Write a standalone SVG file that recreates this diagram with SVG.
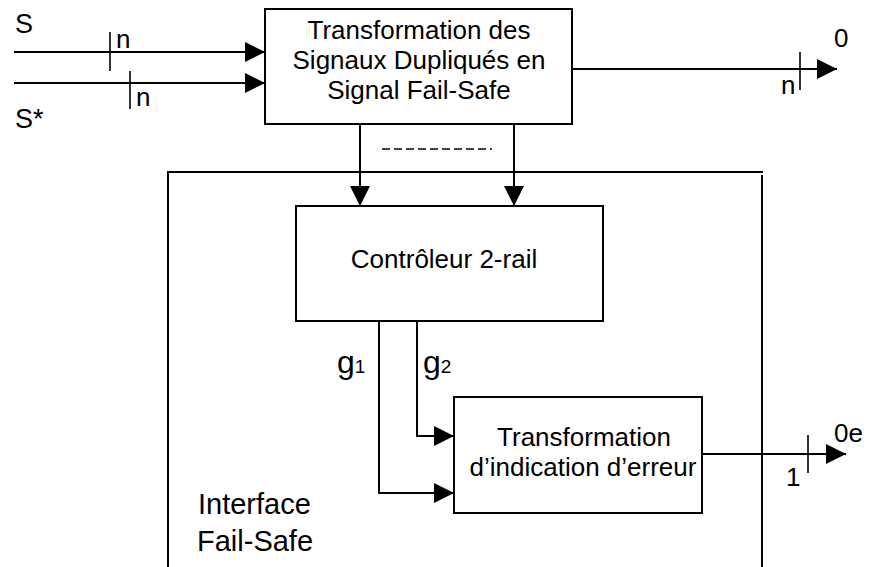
<svg xmlns="http://www.w3.org/2000/svg" width="877" height="567" viewBox="0 0 877 567">
<style>
  .box { fill: #fff; stroke: #000; stroke-width: 2; }
  .ln { fill: none; stroke: #000; stroke-width: 2; }
  .tk { fill: none; stroke: #000; stroke-width: 1.6; }
  text { font-family: "Liberation Sans", Arial, sans-serif; fill: #000; }
  .t { font-size: 26px; }
  .c { text-anchor: middle; }
</style>
<defs>
  <marker id="ah" markerUnits="userSpaceOnUse" markerWidth="20" markerHeight="20" refX="20" refY="10" orient="auto">
    <path d="M0,0 L20,10 L0,20 Z" fill="#000"/>
  </marker>
</defs>
<rect width="877" height="567" fill="#fff"/>

<g id="interface-frame">
  <path class="ln" d="M168,567 V172 H763"/>
  <path class="ln" d="M762,175 V567"/>
  <text class="t" x="198" y="514" style="font-size:29px">Interface</text>
  <text class="t" x="197" y="551" style="font-size:29px">Fail-Safe</text>
</g>

<g id="connectors">
  <line class="ln" x1="14" y1="52" x2="265" y2="52" marker-end="url(#ah)"/>
  <line class="ln" x1="14" y1="83" x2="265" y2="83" marker-end="url(#ah)"/>
  <line class="tk" x1="110" y1="32" x2="110" y2="71"/>
  <line class="tk" x1="130" y1="71" x2="130" y2="109"/>
  <line class="ln" x1="572" y1="69" x2="837" y2="69" marker-end="url(#ah)"/>
  <line class="tk" x1="800" y1="52" x2="800" y2="90"/>
  <line class="ln" x1="360" y1="124" x2="360" y2="206" marker-end="url(#ah)"/>
  <line class="ln" x1="514" y1="124" x2="514" y2="206" marker-end="url(#ah)"/>
  <line x1="382" y1="149" x2="492" y2="149" stroke="#000" stroke-width="1.5" stroke-dasharray="8,4"/>
  <path class="ln" d="M379,321 V493 H454" marker-end="url(#ah)"/>
  <path class="ln" d="M417,321 V436 H454" marker-end="url(#ah)"/>
  <line class="ln" x1="702" y1="454" x2="846" y2="454" marker-end="url(#ah)"/>
  <line class="tk" x1="808" y1="435" x2="808" y2="473"/>
</g>

<g id="labels">
  <text class="t" x="15" y="33" style="font-size:27px">S</text>
  <text class="t" x="15" y="128" style="font-size:27px">S*</text>
  <text class="t" x="116" y="48">n</text>
  <text class="t" x="136" y="106">n</text>
  <text class="t" x="781" y="94">n</text>
  <text class="t" x="834" y="47">0</text>
  <text class="t" x="786" y="486">1</text>
  <text class="t" x="834" y="442">0e</text>
  <text x="337" y="373" style="font-size:32px">g<tspan style="font-size:19px">1</tspan></text>
  <text x="423" y="373" style="font-size:32px">g<tspan style="font-size:19px">2</tspan></text>
</g>

<g id="node-transformation">
  <rect class="box" x="265" y="9" width="307" height="115"/>
  <text class="t c" x="419" y="39">Transformation des</text>
  <text class="t c" x="419" y="69">Signaux Dupliqués en</text>
  <text class="t c" x="419" y="99">Signal Fail-Safe</text>
</g>

<g id="node-controleur">
  <rect class="box" x="296" y="206" width="307" height="115"/>
  <text class="t c" x="444" y="268">Contrôleur 2-rail</text>
</g>

<g id="node-erreur">
  <rect class="box" x="454" y="397" width="248" height="116"/>
  <text class="t c" x="584" y="446">Transformation</text>
  <text class="t c" x="583" y="476">d’indication d’erreur</text>
</g>
</svg>
